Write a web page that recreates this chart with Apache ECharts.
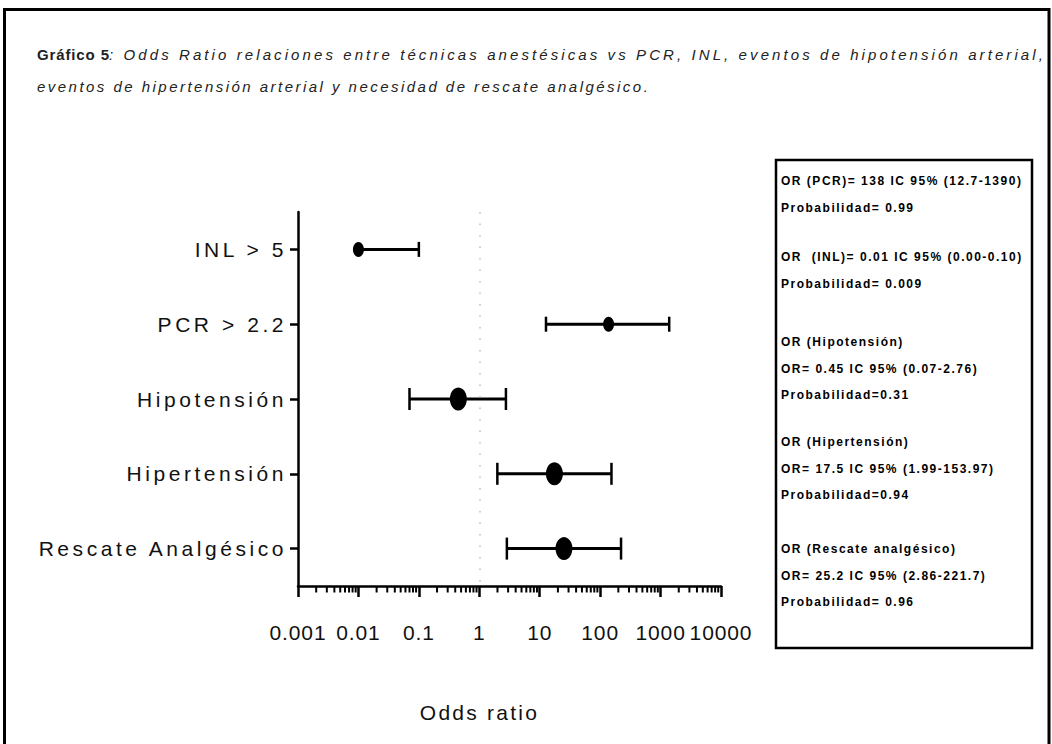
<!DOCTYPE html>
<html>
<head>
<meta charset="utf-8">
<script src="https://cdn.jsdelivr.net/npm/echarts@6/dist/echarts.min.js"></script>
<style>
html,body{margin:0;padding:0;background:#fff;}
#chart{width:1052px;height:744px;}
#chart text{white-space:pre;}
</style>
<style id="spacing"></style>
</head>
<body>
<div id="chart"></div>
<script>
// ---------------- data ----------------
const categories = ['INL > 5', 'PCR > 2.2', 'Hipotensión', 'Hipertensión', 'Rescate Analgésico'];
const oddsRatio = [0.01, 138, 0.45, 17.5, 25.2];
const ciLower = [0.00, 12.7, 0.07, 1.99, 2.86];
const ciUpper = [0.10, 1390, 2.76, 153.97, 221.7];
const xTickLabels = ['0.001', '0.01', '0.1', '1', '10', '100', '1000', '10000'];
const xAxisMin = 0.001;
const xAxisMax = 10000;
const titleBold = 'Gráfico 5';
const titleLine1 = ': Odds Ratio relaciones entre técnicas anestésicas vs PCR, INL, eventos de hipotensión arterial,';
const titleLine2 = 'eventos de hipertensión arterial y necesidad de rescate analgésico.';
const xAxisTitle = 'Odds ratio';
const statGroups = [
  ['OR (PCR)= 138 IC 95% (12.7-1390)', 'Probabilidad= 0.99'],
  ['OR  (INL)= 0.01 IC 95% (0.00-0.10)', 'Probabilidad= 0.009'],
  ['OR (Hipotensión)', 'OR= 0.45 IC 95% (0.07-2.76)', 'Probabilidad=0.31'],
  ['OR (Hipertensión)', 'OR= 17.5 IC 95% (1.99-153.97)', 'Probabilidad=0.94'],
  ['OR (Rescate analgésico)', 'OR= 25.2 IC 95% (2.86-221.7)', 'Probabilidad= 0.96']
];

// ---------------- styles ----------------
const markerSizes = [[11, 15], [11, 15], [17, 23], [17, 23], [17, 23]];
const capHeights = [15, 15, 22, 22, 22];
const statGroupTops = [182, 258, 343, 443, 550];
const statLineStep = 26.5;

const BASE = "'Liberation Sans'";
const fonts = {
  yl: { font: '21px ' + BASE + ', lsYL', sample: 'Rescate Analgésico', width: 246 },
  xl: { font: '21px ' + BASE + ', lsXL', sample: '10000', width: 62 },
  xn: { font: '21px ' + BASE + ', lsXN', sample: 'Odds ratio', width: 117 },
  st: { font: 'bold 12px ' + BASE + ', lsST', sample: 'OR (PCR)= 138 IC 95% (12.7-1390)', width: 240 },
  tb: { font: 'bold 15px ' + BASE + ', lsTB', sample: titleBold, width: 72 },
  t1: { font: 'italic 15px ' + BASE + ', lsT1', sample: titleLine1, width: 934 },
  t2: { font: 'italic 15px ' + BASE + ', lsT2', sample: titleLine2, width: 611 }
};
(function buildSpacing() {
  const ctx = document.createElement('canvas').getContext('2d');
  let css = '';
  Object.keys(fonts).forEach(k => {
    const f = fonts[k];
    ctx.font = f.font;
    const w = ctx.measureText(f.sample).width;
    const s = Math.max(0, (f.width - w) / (f.sample.length - 1));
    f.spacing = s;
    const token = f.font.split(', ').pop();
    css += '#chart text[style*="' + token + '"]{letter-spacing:' + s.toFixed(2) + 'px;}\n';
  });
  document.getElementById('spacing').textContent = css;
})();
function fam(k) { return fonts[k].font.replace(/^(bold |italic )?\d+px /, ''); }

const minorTickValues = [];
for (let e = -3; e < 4; e++) {
  for (let m = 2; m <= 9; m++) minorTickValues.push(m * Math.pow(10, e));
}

const chart = echarts.init(document.getElementById('chart'), null, { renderer: 'svg' });

const statTexts = [];
statGroups.forEach((g, gi) => {
  g.forEach((line, li) => {
    statTexts.push({
      type: 'text', left: 781, top: statGroupTops[gi] + li * statLineStep - 7,
      style: { text: line, fontSize: 12, fontWeight: 'bold', fontFamily: fam('st'), fill: '#000' }
    });
  });
});

const option = {
  animation: false,
  backgroundColor: '#fff',
  grid: { left: 298, top: 212, width: 423, height: 374, containLabel: false },
  xAxis: {
    type: 'log', logBase: 10, min: xAxisMin, max: xAxisMax, interval: 1,
    axisLine: { show: true, lineStyle: { color: '#000', width: 2.5 } },
    axisTick: { show: true, length: 11, lineStyle: { color: '#000', width: 2.5 } },
    splitLine: { show: false },
    minorTick: { show: false },
    axisLabel: {
      margin: 36, fontSize: 21, fontFamily: fam('xl'), color: '#111',
      formatter: (v, i) => xTickLabels[i]
    },
    name: xAxisTitle, nameLocation: 'middle', nameGap: 116,
    nameTextStyle: { fontSize: 21, fontFamily: fam('xn'), color: '#111', padding: [0, 60, 0, 0] }
  },
  yAxis: {
    type: 'category', data: categories, inverse: true, boundaryGap: true,
    axisLine: { show: true, lineStyle: { color: '#000', width: 2.5 } },
    axisTick: { show: true, alignWithLabel: true, length: 8, lineStyle: { color: '#000', width: 2.5 } },
    splitLine: { show: false },
    axisLabel: { margin: 11, fontSize: 21, fontFamily: fam('yl'), color: '#111' }
  },
  graphic: [
    { type: 'rect', shape: { x: 4.5, y: 9.5, width: 1044.5, height: 780 },
      style: { fill: 'none', stroke: '#000', lineWidth: 3 }, silent: true },
    { type: 'rect', shape: { x: 776, y: 160, width: 256, height: 488 },
      style: { fill: 'none', stroke: '#000', lineWidth: 2.5 }, silent: true },
    { type: 'text', left: 37, top: 47,
      style: { text: titleBold, fontSize: 15, fontWeight: 'bold', fontFamily: fam('tb'), fill: '#222' } },
    { type: 'text', left: 109, top: 47,
      style: { text: titleLine1, fontSize: 15, fontStyle: 'italic', fontFamily: fam('t1'), fill: '#222' } },
    { type: 'text', left: 37, top: 79,
      style: { text: titleLine2, fontSize: 15, fontStyle: 'italic', fontFamily: fam('t2'), fill: '#222' } }
  ].concat(statTexts),
  series: [
    {
      type: 'custom', name: 'minorTicks', clip: false, silent: true,
      data: minorTickValues.map(v => [v, 0]),
      encode: { x: 0, y: 1 },
      renderItem: (params, api) => {
        const p = api.coord([api.value(0), 0]);
        const bottom = params.coordSys.y + params.coordSys.height;
        return { type: 'line', shape: { x1: p[0], y1: bottom, x2: p[0], y2: bottom + 6.5 },
          style: { stroke: '#000', lineWidth: 2 } };
      }
    },
    {
      type: 'custom', name: 'IC 95%', clip: false, silent: true, z: 2,
      data: categories.map((c, i) => [i, oddsRatio[i], ciLower[i], ciUpper[i]]),
      encode: { x: [1, 3], y: 0 },
      renderItem: (params, api) => {
        const i = params.dataIndex;
        const cat = api.value(0);
        const est = api.value(1), lo = api.value(2), hi = api.value(3);
        const hasLo = lo > 0;
        const pHi = api.coord([hi, cat]);
        const pLo = api.coord([hasLo ? lo : est, cat]);
        const h = capHeights[i] / 2;
        const children = [
          { type: 'line', shape: { x1: pLo[0], y1: pLo[1], x2: pHi[0], y2: pHi[1] }, style: { stroke: '#000', lineWidth: 3 } },
          { type: 'line', shape: { x1: pHi[0], y1: pHi[1] - h, x2: pHi[0], y2: pHi[1] + h }, style: { stroke: '#000', lineWidth: 2.5 } }
        ];
        if (hasLo) {
          children.push({ type: 'line', shape: { x1: pLo[0], y1: pLo[1] - h, x2: pLo[0], y2: pLo[1] + h }, style: { stroke: '#000', lineWidth: 2.5 } });
        }
        return { type: 'group', children };
      }
    },
    {
      type: 'scatter', name: 'OR', z: 3, silent: true,
      data: oddsRatio.map((v, i) => [v, i]),
      symbol: 'circle',
      symbolSize: (val, params) => markerSizes[params.dataIndex],
      itemStyle: { color: '#000', opacity: 1 },
      markLine: {
        silent: true, symbol: 'none', label: { show: false },
        lineStyle: { color: '#bdbdbd', type: [1.5, 10], width: 1.5 },
        data: [{ xAxis: 1 }]
      }
    }
  ]
};
chart.setOption(option);
</script>
</body>
</html>
